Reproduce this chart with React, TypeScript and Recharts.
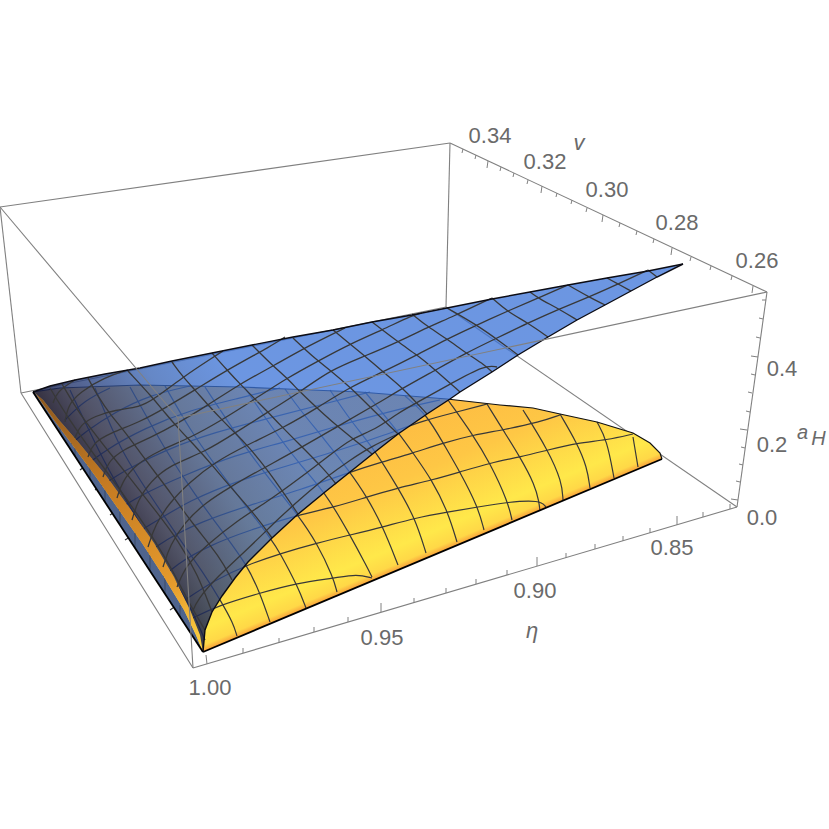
import React from "react";
import { ScatterChart, Scatter, XAxis, YAxis } from "recharts";

type P = number[];
const toData = (pts: P[]) => pts.map(([x, y]) => ({ x, y }));

const boxBack: P[][] = [
  [[0, 207], [21, 393]], [[21, 393], [193, 668]], [[193, 668], [737, 507]], [[737, 507], [446, 307]],
  [[446, 307], [21, 393]], [[450, 143], [446, 307]], [[0, 207], [450, 143]], [[450, 143], [767, 292]], [[767, 292], [737, 507]],
];
const boxFront: P[][] = [
  [[767, 292], [178, 418]], [[178, 418], [0, 207]], [[178, 418], [193, 668]],
];

const etaTicks: P[][] = [
  [[207, 664], [206, 655]], [[243, 653], [243, 648]], [[279, 643], [279, 638]], [[314, 632], [314, 627]], [[348, 622], [348, 617]],
  [[381, 612], [381, 603]], [[414, 603], [414, 598]], [[446, 593], [446, 588]], [[476, 584], [476, 579]], [[507, 575], [507, 570]],
  [[537, 566], [537, 557]], [[566, 558], [566, 553]], [[595, 549], [595, 544]], [[623, 541], [623, 536]], [[650, 533], [650, 528]],
  [[677, 525], [677, 516]], [[703, 517], [703, 512]], [[730, 509], [730, 504]],
];
const vTicks: P[][] = [
  [[463, 149], [462, 153]], [[476, 155], [475, 159]], [[488, 161], [487, 168]], [[501, 167], [500, 171]], [[514, 173], [513, 177]],
  [[528, 180], [527, 184]], [[542, 186], [541, 193]], [[557, 193], [556, 197]], [[572, 200], [571, 204]], [[587, 208], [586, 212]],
  [[603, 215], [602, 222]], [[620, 223], [619, 227]], [[637, 231], [636, 235]], [[654, 239], [653, 243]], [[672, 248], [671, 255]],
  [[691, 257], [690, 261]], [[711, 266], [710, 270]], [[732, 276], [731, 280]], [[753, 286], [752, 293]],
];
const zTicks: P[][] = [
  [[766, 300], [762, 300]], [[763, 319], [759, 318]], [[760, 338], [756, 337]], [[758, 357], [751, 356]], [[755, 375], [751, 374]],
  [[752, 393], [748, 392]], [[750, 412], [746, 411]], [[747, 430], [740, 429]], [[745, 448], [741, 447]], [[743, 465], [739, 464]],
  [[740, 482], [736, 481]], [[738, 500], [731, 499]],
];

const yellowOutline: P[] = [
  [33, 392], [60, 388], [140, 385], [240, 387], [287, 389], [360, 392], [447, 399], [500, 405], [533, 408], [560, 414],
  [597, 422], [633, 433], [650, 443], [660, 453], [662, 459], [203, 652],
];
const yellowTopEdge: P[] = yellowOutline.slice(0, 15);
const yellowBottomEdge: P[] = [[203, 652], [662, 459]];

const yellowA: P[][] = [
  [[633, 437], [638, 467]],
  [[597, 422], [607, 440], [614, 478]],
  [[560, 414], [577, 443], [587, 467], [590, 488]],
  [[523, 410], [548, 450], [562, 482], [563, 500]],
  [[487, 404], [503, 430], [520, 457], [535, 485], [539, 502], [540, 511]],
  [[448, 400], [473, 435], [490, 463], [508, 502], [512, 520]],
  [[405, 396], [427, 415], [443, 443], [460, 472], [478, 507], [484, 530]],
  [[365, 392], [380, 410], [398, 432], [413, 453], [432, 480], [448, 512], [457, 542]],
  [[330, 390], [350, 420], [375, 450], [398, 488], [415, 518], [426, 553]],
  [[285, 389], [300, 410], [325, 440], [350, 472], [367, 497], [383, 527], [398, 565]],
  [[245, 388], [270, 425], [300, 465], [325, 492], [350, 535], [367, 567], [372, 577]],
  [[205, 387], [240, 440], [270, 480], [298, 515], [317, 543], [333, 577], [337, 592]],
  [[165, 386], [190, 430], [215, 465], [245, 505], [272, 540], [280, 553], [298, 587], [306, 608]],
  [[130, 387], [165, 450], [195, 495], [225, 535], [247, 565], [260, 593], [270, 622]],
  [[95, 388], [120, 450], [150, 495], [180, 540], [205, 575], [222, 603], [233, 623], [237, 636]],
  [[70, 390], [105, 465], [135, 515], [165, 565], [190, 605], [205, 640]],
];
const yellowB: P[][] = [
  [[193, 618], [217, 606], [260, 593], [297, 583], [335, 578], [357, 574], [372, 578]],
  [[170, 610], [185, 600], [215, 580], [247, 565], [282, 553], [317, 543], [350, 535], [383, 527], [415, 518], [448, 512], [478, 507], [508, 502], [540, 500], [546, 507]],
  [[160, 580], [175, 565], [210, 545], [250, 530], [298, 515], [335, 507], [367, 497], [398, 488], [432, 480], [460, 472], [490, 463], [520, 457], [548, 450], [577, 443], [607, 440], [633, 434]],
  [[145, 555], [165, 540], [200, 522], [250, 505], [300, 490], [350, 472], [382, 462], [413, 453], [443, 443], [473, 435], [503, 430], [540, 422], [560, 415]],
  [[125, 540], [150, 525], [190, 500], [240, 480], [290, 465], [340, 450], [385, 435], [425, 420], [457, 412], [487, 404]],
  [[110, 515], [140, 495], [185, 475], [235, 455], [285, 442], [340, 425], [395, 410], [440, 400]],
  [[95, 490], [125, 470], [165, 450], [215, 432], [270, 418], [320, 405], [370, 392]],
  [[80, 470], [105, 450], [145, 428], [190, 410], [240, 398], [280, 388]],
  [[70, 445], [85, 432], [115, 412], [150, 395], [190, 386]],
  [[65, 420], [85, 400], [110, 388]],
];

const stripOuter: P[] = [[33, 392], [203, 652]];
const orangeLeft: P[] = [[36, 394], [40, 400], [54, 420], [71, 443], [96, 477], [119, 510], [142, 543], [164, 577], [184, 610], [196, 635], [203, 652]];
const orangeRight: P[] = [[36, 394], [43, 400], [59, 420], [79, 443], [107, 477], [131, 510], [154, 543], [174, 577], [190, 610], [200, 635], [203, 652]];
const stripTicks: P[][] = [
  [[60, 425], [60, 433]], [[75, 448], [75, 456]], [[90, 467], [90, 479]], [[105, 490], [105, 502]], [[120, 512], [120, 525]],
  [[135, 533], [135, 548]], [[150, 555], [150, 571]], [[165, 578], [165, 594]], [[180, 605], [180, 617]],
];

const blueUpper: P[] = [
  [33, 392], [50, 386], [75, 380], [105, 374], [140, 368], [172, 361], [212, 353], [252, 345], [293, 337], [333, 330], [372, 322],
  [412, 315], [447, 308], [492, 299], [530, 292], [568, 285], [607, 278], [648, 271], [683, 264],
];
const blueLower: P[] = [
  [203, 652], [205, 630], [212, 612], [222, 596], [235, 578], [248, 562], [272, 538], [297, 515], [325, 492], [350, 472], [375, 452],
  [398, 434], [427, 414], [450, 399], [460, 392], [492, 372], [518, 355], [548, 337], [577, 320], [605, 305], [631, 291], [657, 277], [683, 264],
];
const blueA: P[][] = [
  [[648, 270], [657, 277]],
  [[607, 278], [618, 284], [631, 291]],
  [[568, 285], [589, 297], [605, 305]],
  [[530, 292], [538, 298], [559, 309], [577, 320]],
  [[492, 298], [508, 312], [528, 323], [548, 337]],
  [[447, 308], [477, 325], [502, 343], [518, 355]],
  [[412, 314], [428, 327], [447, 339], [466, 353], [485, 365], [492, 372]],
  [[372, 322], [398, 342], [417, 355], [432, 367], [460, 392]],
  [[333, 330], [350, 344], [365, 356], [383, 372], [403, 388], [427, 414]],
  [[293, 338], [313, 357], [330, 370], [350, 387], [375, 412], [398, 434]],
  [[252, 345], [273, 366], [287, 378], [300, 392], [317, 408], [330, 420], [352, 438], [372, 454]],
  [[212, 353], [227, 370], [240, 384], [255, 399], [268, 412], [283, 428], [297, 442], [325, 470], [336, 484]],
  [[172, 362], [183, 377], [195, 390], [208, 405], [222, 420], [235, 433], [247, 445], [268, 470], [298, 514]],
  [[128, 371], [153, 398], [165, 413], [178, 428], [197, 448], [212, 465], [227, 483], [257, 517], [272, 538]],
  [[88, 378], [97, 395], [112, 417], [122, 428], [142, 455], [157, 475], [170, 492], [192, 523], [220, 557], [232, 580]],
  [[62, 384], [80, 415], [105, 447], [130, 478], [155, 510], [178, 540], [198, 575], [212, 612]],
  [[50, 388], [68, 418], [92, 452], [118, 487], [145, 525], [170, 565], [190, 605], [205, 630]],
];
const blueB: P[][] = [
  [[192, 613], [197, 600], [217, 577], [250, 547], [280, 517], [305, 495], [325, 478], [350, 460], [372, 446], [398, 434]],
  [[177, 587], [186, 565], [207, 545], [235, 522], [270, 500], [300, 478], [330, 455], [352, 438], [375, 430], [398, 413], [418, 402], [452, 383], [485, 365], [497, 367]],
  [[163, 567], [170, 545], [185, 522], [205, 503], [230, 487], [260, 470], [297, 450], [340, 425], [375, 405], [403, 388], [432, 372], [466, 353], [497, 338], [528, 323], [559, 309], [589, 297], [618, 284], [648, 270]],
  [[148, 547], [155, 525], [170, 502], [190, 482], [215, 462], [247, 445], [283, 428], [317, 408], [350, 387], [383, 372], [417, 355], [447, 339], [477, 325], [510, 310], [538, 298], [568, 285]],
  [[132, 520], [138, 500], [150, 482], [170, 465], [205, 452], [235, 433], [268, 412], [300, 392], [330, 370], [365, 356], [398, 342], [428, 327], [452, 317], [492, 298]],
  [[117, 498], [122, 482], [135, 465], [160, 450], [190, 438], [222, 420], [255, 399], [287, 378], [320, 360], [350, 344], [382, 330], [413, 315], [422, 313]],
  [[103, 477], [108, 462], [122, 450], [150, 438], [180, 422], [208, 405], [240, 384], [273, 366], [310, 345], [345, 328]],
  [[88, 457], [93, 443], [110, 433], [140, 422], [165, 408], [195, 390], [227, 370], [273, 345], [285, 337]],
  [[75, 438], [80, 425], [95, 416], [115, 410], [140, 407], [153, 400], [183, 377], [212, 358], [223, 351]],
  [[65, 422], [68, 405], [80, 392], [105, 377], [128, 370]],
  [[53, 403], [57, 392], [70, 383], [75, 380]],
];

const tickLabels = [
  { x: 210, y: 687, label: "1.00" }, { x: 382, y: 637, label: "0.95" }, { x: 535, y: 590, label: "0.90" }, { x: 672, y: 547, label: "0.85" },
  { x: 490, y: 135, label: "0.34" }, { x: 545, y: 161, label: "0.32" }, { x: 607, y: 189, label: "0.30" }, { x: 677, y: 222, label: "0.28" }, { x: 757, y: 260, label: "0.26" },
  { x: 762, y: 517, label: "0.0" }, { x: 772, y: 444, label: "0.2" }, { x: 782, y: 368, label: "0.4" },
];
const axisTitles = [
  { x: 579, y: 142, label: "v" }, { x: 532, y: 630, label: "η" },
];
const axisTitleZ = [{ x: 797, y: 432, label: "a", sub: "H" }];

const noDot = () => null;
const closedShape = (fill: string, opacity = 1) => (p: any) => (
  <path d={"M" + p.points.map((q: any) => `${q.x},${q.y}`).join("L") + "Z"} fill={fill} fillOpacity={opacity} stroke="none" />
);

const Polyline = (pts: P[], key: string, stroke: string, width: number, joint: string = "linear") => (
  <Scatter key={key} data={toData(pts)} shape={noDot} isAnimationActive={false} line={{ stroke, strokeWidth: width }} lineJointType={joint as any} />
);
const Polygon = (pts: P[], key: string, fill: string, opacity = 1) => (
  <Scatter key={key} data={toData(pts)} shape={noDot} isAnimationActive={false} line={closedShape(fill, opacity)} />
);

const grey = "#808080";
const dark = "#383838";
const bluePolygon = [...blueUpper, ...blueLower.slice(0, -1).reverse(), ...orangeRight.slice().reverse()];
const stripPolygon = [...orangeLeft, ...stripOuter.slice().reverse()];
const orangePolygon = [...orangeLeft, ...orangeRight.slice().reverse()];

export default function App() {
  return (
    <div style={{ position: "absolute", left: 0, top: 0, width: 829, height: 829, background: "#fff" }}>
      <ScatterChart width={829} height={829} margin={{ top: 0, right: 0, bottom: 0, left: 0 }}>
        <defs>
          <linearGradient id="yellowFill" gradientUnits="userSpaceOnUse" x1={375} y1={418} x2={433} y2={556}>
            <stop offset="0" stopColor="#fdba42" />
            <stop offset="0.45" stopColor="#fec745" />
            <stop offset="0.85" stopColor="#ffe84a" />
            <stop offset="0.955" stopColor="#ffd847" />
            <stop offset="1" stopColor="#f79a3a" />
          </linearGradient>
          <linearGradient id="blueFill" gradientUnits="userSpaceOnUse" x1={118} y1={522} x2={268} y2={424}>
            <stop offset="0" stopColor="#141a40" stopOpacity={0.86} />
            <stop offset="0.2" stopColor="#26386f" stopOpacity={0.8} />
            <stop offset="0.6" stopColor="#3562b4" stopOpacity={0.76} />
            <stop offset="1" stopColor="#3b73d8" stopOpacity={0.75} />
          </linearGradient>
          <linearGradient id="orangeFill" gradientUnits="userSpaceOnUse" x1={40} y1={400} x2={203} y2={652}>
            <stop offset="0" stopColor="#8f5a20" />
            <stop offset="0.35" stopColor="#c47a22" />
            <stop offset="0.75" stopColor="#e59a2c" />
            <stop offset="1" stopColor="#ffd642" />
          </linearGradient>
        </defs>
        <XAxis type="number" dataKey="x" domain={[0, 829]} hide allowDataOverflow />
        <YAxis type="number" dataKey="y" domain={[0, 829]} reversed hide allowDataOverflow />

        {boxBack.map((s, i) => Polyline(s, "bb" + i, grey, 1.1))}
        {etaTicks.map((s, i) => Polyline(s, "et" + i, grey, 1))}
        {vTicks.map((s, i) => Polyline(s, "vt" + i, grey, 1))}
        {zTicks.map((s, i) => Polyline(s, "zt" + i, grey, 1))}

        {Polygon(yellowOutline, "yf", "url(#yellowFill)")}
        {yellowA.map((s, i) => Polyline(s, "ya" + i, dark, 1.2, "basis"))}
        {yellowB.map((s, i) => Polyline(s, "yb" + i, dark, 1.2, "basis"))}
        {Polyline(yellowTopEdge, "yt", "#111", 1.2)}
        {Polyline(yellowBottomEdge, "ybe", "#000", 1.8)}

        {Polygon(stripPolygon, "sp", "#4f648d")}
        {stripTicks.map((s, i) => Polyline(s, "st" + i, "#3a4a66", 1))}
        {Polygon(orangePolygon, "op", "url(#orangeFill)")}
        {Polygon(bluePolygon, "bf", "url(#blueFill)")}
        {blueA.map((s, i) => Polyline(s, "ba" + i, dark, 1.3, "basis"))}
        {blueB.map((s, i) => Polyline(s, "bb2" + i, dark, 1.3, "basis"))}
        {Polyline(blueUpper, "bu", "#0c0c14", 1.4)}
        {Polyline(blueLower, "bl", "#0c0c14", 1.4)}
        {Polyline(stripOuter, "so", "#000", 1.8)}

        {boxFront.map((s, i) => Polyline(s, "bf" + i, grey, 1.1))}

        <Scatter
          data={tickLabels}
          isAnimationActive={false}
          shape={(p: any) => (
            <text x={p.cx} y={p.cy} textAnchor="middle" dominantBaseline="central" fontFamily="Liberation Sans" fontSize={22} fill="#6a6a6a">
              {p.payload.label}
            </text>
          )}
        />
        <Scatter
          data={axisTitles}
          isAnimationActive={false}
          shape={(p: any) => (
            <text x={p.cx} y={p.cy} textAnchor="middle" dominantBaseline="central" fontFamily="Liberation Sans" fontStyle="italic" fontSize={22} fill="#6a6a6a">
              {p.payload.label}
            </text>
          )}
        />
        <Scatter
          data={axisTitleZ}
          isAnimationActive={false}
          shape={(p: any) => (
            <text x={p.cx} y={p.cy} textAnchor="start" dominantBaseline="central" fontFamily="Liberation Sans" fontStyle="italic" fontSize={20} fill="#6a6a6a">
              {p.payload.label}
              <tspan dx={3} dy={6} fontSize={20}>{p.payload.sub}</tspan>
            </text>
          )}
        />
      </ScatterChart>
    </div>
  );
}
